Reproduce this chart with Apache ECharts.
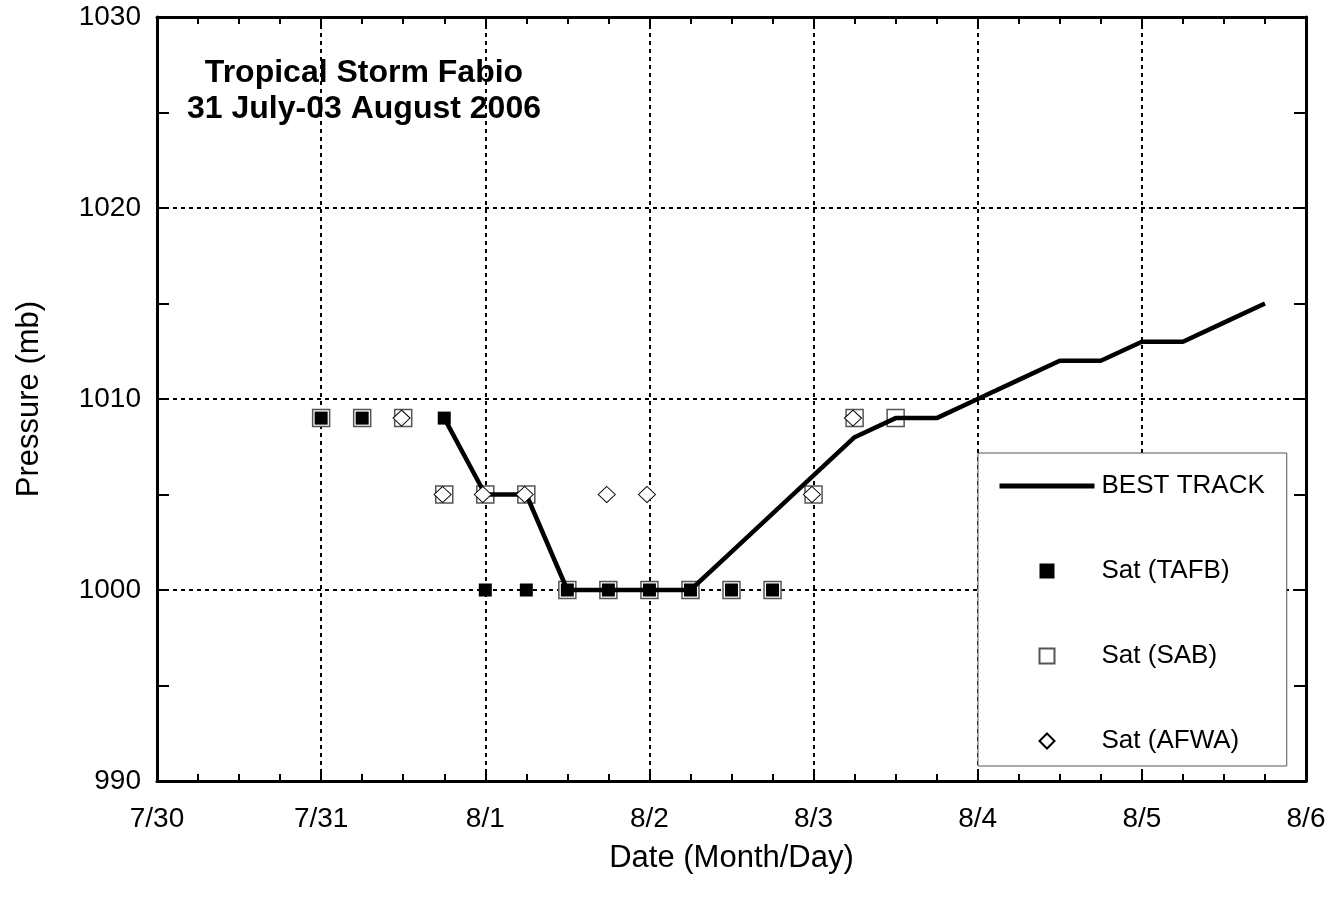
<!DOCTYPE html>
<html><head><meta charset="utf-8">
<script src="https://cdn.jsdelivr.net/npm/echarts@6/dist/echarts.min.js"></script>
<style>html,body{margin:0;padding:0;background:#fff}#c{width:1341px;height:903px}</style>
</head><body><div id="c"></div>
<script>
// x values are days since 7/30 00Z
const dayLabels = ['7/30','7/31','8/1','8/2','8/3','8/4','8/5','8/6'];
const yTicks = [990, 1000, 1010, 1020, 1030];

const bestTimes = [1.75,2.0,2.25,2.5,2.75,3.0,3.25,3.5,3.75,4.0,4.25,4.5,4.75,5.0,5.25,5.5,5.75,6.0,6.25,6.5,6.75];
const bestPressure = [1009,1005,1005,1000,1000,1000,1000,1002,1004,1006,1008,1009,1009,1010,1011,1012,1012,1013,1013,1014,1015];

const tafbTimes = [1.0,1.25,1.75,2.0,2.25,2.5,2.75,3.0,3.25,3.5,3.75];
const tafbPressure = [1009,1009,1009,1000,1000,1000,1000,1000,1000,1000,1000];

const sabTimes = [1.0,1.25,1.5,1.75,2.0,2.25,2.5,2.75,3.0,3.25,3.5,3.75,4.0,4.25,4.5];
const sabPressure = [1009,1009,1009,1005,1005,1005,1000,1000,1000,1000,1000,1000,1005,1009,1009];

const afwaTimes = [1.49,1.74,1.985,2.24,2.74,2.985,3.99,4.24];
const afwaPressure = [1009,1005,1005,1005,1005,1005,1005,1009];

const zip = (a, b) => a.map((v, i) => [v, b[i]]);
const FONT = '"Liberation Sans", Arial, sans-serif';

const chart = echarts.init(document.getElementById('c'), null, {renderer: 'canvas'});

const axisLine = {show: true, onZero: false, lineStyle: {color: '#000', width: 3}};
const xCommon = {
  type: 'value', min: 0, max: dayLabels.length - 1, interval: 1,
  axisLine: axisLine,
  axisTick: {show: true, inside: true, length: 8, lineStyle: {color: '#000', width: 2}},
  minorTick: {show: true, splitNumber: 4, length: 7, lineStyle: {color: '#000', width: 2}},
};
const yCommon = {
  type: 'value', min: yTicks[0], max: yTicks[yTicks.length - 1], interval: yTicks[1] - yTicks[0],
  axisLine: axisLine,
  axisTick: {show: true, inside: true, length: 12, lineStyle: {color: '#000', width: 2}},
  minorTick: {show: true, splitNumber: 2, length: 12, lineStyle: {color: '#000', width: 2}},
};

chart.setOption({
  animation: false,
  backgroundColor: '#fff',
  grid: {left: 157, right: 35, top: 17, bottom: 122, containLabel: false, outerBoundsMode: 'none'},
  graphic: [{
    type: 'text', x: 364, y: 55, z: 10,
    style: {
      text: 'Tropical Storm Fabio\n31 July-03 August 2006',
      font: 'bold 32px ' + FONT, fill: '#000',
      textAlign: 'center', textVerticalAlign: 'top', lineHeight: 36
    }
  }],
  xAxis: [
    Object.assign({}, xCommon, {
      position: 'bottom',
      name: 'Date (Month/Day)', nameLocation: 'middle', nameGap: 62,
      nameTextStyle: {fontFamily: FONT, fontSize: 31, color: '#000'},
      axisLabel: {show: true, margin: 24, fontFamily: FONT, fontSize: 28, color: '#000',
        formatter: v => dayLabels[Math.round(v)] || ''},
      splitLine: {show: true, lineStyle: {color: '#000', width: 2, type: [4, 4]}},
    }),
    Object.assign({}, xCommon, {
      position: 'top', axisLabel: {show: false}, splitLine: {show: false}
    })
  ],
  yAxis: [
    Object.assign({}, yCommon, {
      position: 'left',
      name: 'Pressure (mb)', nameLocation: 'middle', nameGap: 112, nameRotate: 90,
      nameTextStyle: {fontFamily: FONT, fontSize: 31, color: '#000'},
      axisLabel: {show: true, margin: 16, fontFamily: FONT, fontSize: 28, color: '#000',
        formatter: v => String(v)},
      splitLine: {show: true, lineStyle: {color: '#000', width: 2, type: [4, 4]}},
    }),
    Object.assign({}, yCommon, {
      position: 'right', axisLabel: {show: false}, splitLine: {show: false}
    })
  ],
  legend: {
    show: true, orient: 'vertical', align: 'left',
    left: 978, top: 453,
    padding: [20, 22, 12, 19],
    itemWidth: 95, itemHeight: 15, itemGap: 59,
    backgroundColor: '#fff', borderColor: '#555', borderWidth: 1,
    selectedMode: false, symbolKeepAspect: true,
    textStyle: {fontFamily: FONT, fontSize: 26, color: '#000', lineHeight: 26, padding: [0, 0, 0, 2]},
    data: [
      {name: 'BEST TRACK', itemStyle: {opacity: 0}, lineStyle: {width: 5, color: '#000'}},
      {name: 'Sat (TAFB)', icon: 'path://M0,0L1,0L1,1L0,1Z'},
      {name: 'Sat (SAB)', icon: 'path://M0,0L1,0L1,1L0,1Z'},
      {name: 'Sat (AFWA)', icon: 'path://M0.5,0L1,0.5L0.5,1L0,0.5Z'}
    ]
  },
  series: [
    {
      name: 'Sat (SAB)', type: 'scatter', z: 2, xAxisIndex: 0, yAxisIndex: 0,
      symbol: 'rect', symbolSize: 17,
      itemStyle: {color: '#fff', borderColor: '#555', borderWidth: 1.5, opacity: 1},
      data: zip(sabTimes, sabPressure)
    },
    {
      name: 'Sat (TAFB)', type: 'scatter', z: 3,
      symbol: 'rect', symbolSize: 13,
      itemStyle: {color: '#000', borderColor: '#000', borderWidth: 0, opacity: 1},
      data: zip(tafbTimes, tafbPressure)
    },
    {
      name: 'BEST TRACK', type: 'line', z: 4,
      symbol: 'none', showSymbol: false,
      lineStyle: {color: '#000', width: 4.5},
      itemStyle: {color: '#000'},
      data: zip(bestTimes, bestPressure)
    },
    {
      name: 'Sat (AFWA)', type: 'scatter', z: 5,
      symbol: 'diamond', symbolSize: [17, 16],
      itemStyle: {color: '#fff', borderColor: '#000', borderWidth: 1, opacity: 1},
      data: zip(afwaTimes, afwaPressure)
    }
  ]
});
</script>
</body></html>
